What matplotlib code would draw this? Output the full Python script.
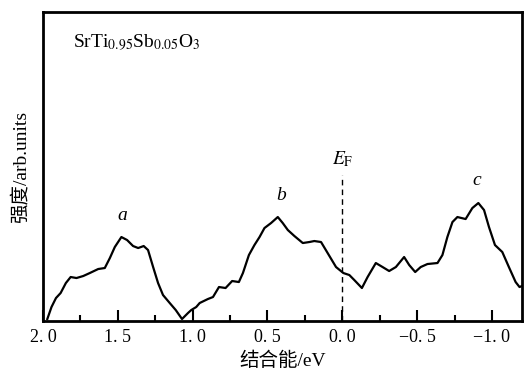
import matplotlib
matplotlib.use("Agg")
import matplotlib.pyplot as plt
from matplotlib.ticker import MultipleLocator, FuncFormatter

binding_energy = [1.971, 1.943, 1.913, 1.882, 1.847, 1.815, 1.776, 1.731, 1.687, 1.631,
                  1.587, 1.553, 1.52, 1.476, 1.438, 1.398, 1.364, 1.327, 1.298, 1.264,
                  1.231, 1.198, 1.153, 1.113, 1.071, 1.031, 1.009, 0.976, 0.953, 0.898,
                  0.864, 0.824, 0.78, 0.736, 0.691, 0.664, 0.624, 0.587, 0.553, 0.52,
                  0.476, 0.431, 0.398, 0.364, 0.32, 0.264, 0.22, 0.187, 0.142, 0.098,
                  0.042, -0.007, -0.047, -0.08, -0.131, -0.169, -0.224, -0.269, -0.313,
                  -0.358, -0.413, -0.447, -0.487, -0.524, -0.569, -0.636, -0.669, -0.702,
                  -0.736, -0.769, -0.824, -0.869, -0.909, -0.947, -0.98, -1.02, -1.069,
                  -1.113, -1.158, -1.184, -1.2]
intensity = [2, 14, 23, 28, 38, 44, 43, 45, 48, 52,
             53, 63, 74, 84, 81, 75, 73, 75, 71, 54,
             38, 26, 18, 11, 2, 8, 11, 14, 18, 22,
             24, 34, 33, 40, 39, 48, 66, 76, 84, 93,
             98, 104, 98, 91, 85, 78, 79, 80, 79, 68,
             54, 48, 46, 41, 33, 44, 58, 54, 50,
             54, 64, 56, 49, 54, 57, 58, 66, 84,
             99, 104, 102, 113, 118, 111, 94, 76, 69,
             54, 39, 34, 35]

x_ticks = [2.0, 1.5, 1.0, 0.5, 0.0, -0.5, -1.0]
peak_labels = ["a", "b", "c"]
peak_pos = [(1.47, 97), (0.41, 117), (-0.9, 132)]

fig = plt.figure(figsize=(5.24, 3.77), dpi=100)
ax = fig.add_axes([0.082, 0.1485, 0.914, 0.8195])

serif = ["Liberation Serif", "DejaVu Serif"]
mixed = ["Liberation Serif", "Noto Sans CJK SC", "DejaVu Sans"]

ax.plot(binding_energy, intensity, color="black", lw=1.6, solid_joinstyle="round")
ax.set_xlim(2.0, -1.2)
ax.set_ylim(0, 309)
ax.axvline(0.0, ymin=0, ymax=(321 - 175) / 309, color="black", lw=1.0, ls=(0, (4, 3)))

ax.set_xticks(x_ticks)
ax.xaxis.set_minor_locator(MultipleLocator(0.25))
ax.xaxis.set_major_formatter(
    FuncFormatter(lambda v, p: f"{v:.1f}".replace("-", "\u2212").replace(".", ". ")))
ax.tick_params(axis="x", which="major", direction="in", length=8, width=1.5,
               labelsize=13, pad=6)
ax.tick_params(axis="x", which="minor", direction="in", length=4, width=1.5)
ax.set_yticks([])
for lab in ax.get_xticklabels():
    lab.set_family(serif)
for s in ax.spines.values():
    s.set_linewidth(2)

ax.set_xlabel("结合能/eV", fontsize=14, family=mixed, labelpad=4)
ax.set_ylabel("强度/arb.units", fontsize=14, family=mixed, labelpad=10)

ax.text(0.062, 0.885, r"SrTi$_{0.95}$Sb$_{0.05}$O$_3$", transform=ax.transAxes,
        fontsize=14, family=serif, math_fontfamily="stix")
for lab, (xv, yv) in zip(peak_labels, peak_pos):
    ax.text(xv, yv, lab, fontsize=14, family=serif, style="italic", ha="center", va="bottom")
ax.text(0.0, 152, r"$E_{\mathrm{F}}$", fontsize=14, ha="center", va="bottom",
        math_fontfamily="stix")

fig.savefig("out.png", dpi=100)
